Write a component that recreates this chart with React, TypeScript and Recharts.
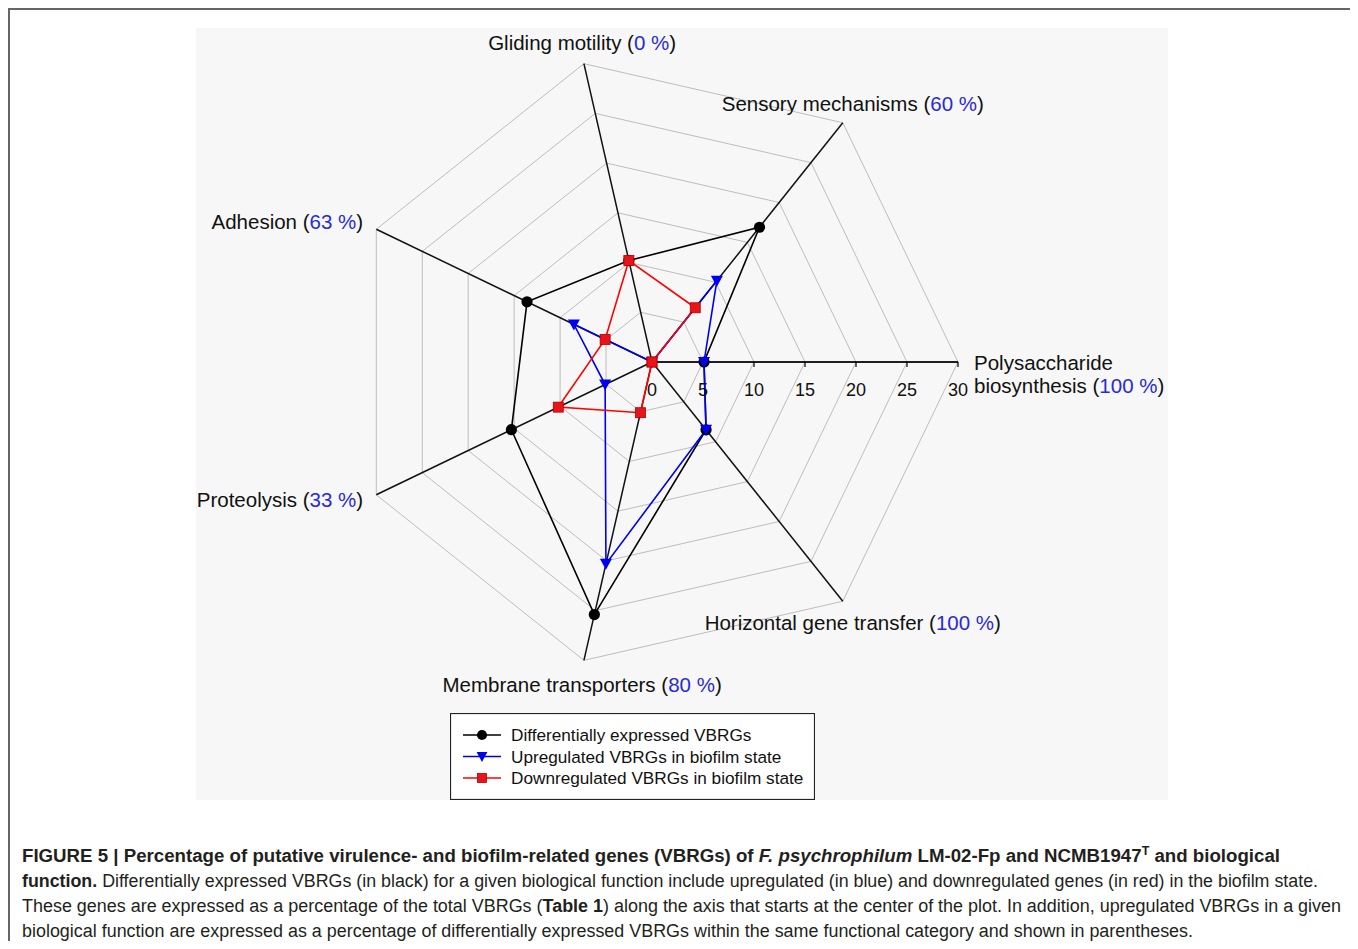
import React from "react";
import {
  RadarChart,
  Radar,
  PolarGrid,
  PolarAngleAxis,
  PolarRadiusAxis,
  Legend,
} from "recharts";

// values (% of total VBRGs)
const CATEGORIES = [
  "Gliding motility",
  "Sensory mechanisms",
  "Polysaccharide biosynthesis",
  "Horizontal gene transfer",
  "Membrane transporters",
  "Proteolysis",
  "Adhesion",
];
const UP_SHARE = [0, 60, 100, 100, 80, 33, 63];
const DIFFERENTIAL = [10.2, 16.9, 5.1, 8.5, 25.4, 15.3, 13.6];
const UPREGULATED = [0, 10.2, 5.1, 8.5, 20.3, 5.1, 8.5];
const DOWNREGULATED = [10.2, 6.8, 0, 0, 5.1, 10.2, 5.1];
const RADIUS_TICKS = [0, 5, 10, 15, 20, 25, 30];

const SERIES = [
  { key: "diff", name: "Differentially expressed VBRGs", color: "#000000", shape: "circle" },
  { key: "up", name: "Upregulated VBRGs in biofilm state", color: "#0000f0", shape: "triangle" },
  { key: "down", name: "Downregulated VBRGs in biofilm state", color: "#ff0000", shape: "square" },
];

const data = CATEGORIES.map((c, i) => ({
  category: c,
  diff: DIFFERENTIAL[i],
  up: UPREGULATED[i],
  down: DOWNREGULATED[i],
}));

const W = 1344;
const H = 933;
const CX = 644;
const CY = 354;
const R = 306;
// tuned so that Gliding motility lands at ~102.9deg and Polysaccharide on the 0deg axis
const START = 90 + 360 / 28;
const FONT = "'Liberation Sans', Arial, sans-serif";
const PCT_BLUE = "#2a2ad6";

// label placement relative to the tick point (radius + 8)
const LABEL_POS: Record<string, { dx: number; dy: number; anchor: string; wrap?: boolean }> = {
  "Gliding motility": { dx: 0, dy: -13, anchor: "middle" },
  "Sensory mechanisms": { dx: 5, dy: -12.5, anchor: "middle" },
  "Polysaccharide biosynthesis": { dx: 8, dy: 1, anchor: "start", wrap: true },
  "Horizontal gene transfer": { dx: 5, dy: 15.5, anchor: "middle" },
  "Membrane transporters": { dx: 0, dy: 17, anchor: "middle" },
  Proteolysis: { dx: -6, dy: 2, anchor: "end" },
  Adhesion: { dx: -6, dy: -4, anchor: "end" },
};

function Marker({ shape, cx, cy, color, s = 1 }: any) {
  if (shape === "circle") return <circle cx={cx} cy={cy} r={5.6 * s} fill={color} />;
  if (shape === "triangle")
    return (
      <polygon
        points={`${cx - 6 * s},${cy - 5 * s} ${cx + 6 * s},${cy - 5 * s} ${cx},${cy + 6 * s}`}
        fill={color}
      />
    );
  return (
    <rect
      x={cx - 5 * s}
      y={cy - 5 * s}
      width={10 * s}
      height={10 * s}
      fill="#e8141c"
      stroke="#b00000"
      strokeWidth={0.8}
    />
  );
}

function AngleTick(props: any) {
  const { payload } = props;
  const name = payload.value as string;
  const i = CATEGORIES.indexOf(name);
  const pos = LABEL_POS[name];
  const rad = (payload.coordinate * Math.PI) / 180;
  const x = CX + (R + 8) * Math.cos(rad) + pos.dx;
  const y = CY - (R + 8) * Math.sin(rad) + pos.dy + 7;
  const pct = (
    <>
      {" ("}
      <tspan fill={PCT_BLUE}>{`${UP_SHARE[i]} %`}</tspan>
      {")"}
    </>
  );
  if (pos.wrap) {
    const [a, b] = name.split(" ");
    return (
      <g>
        <text x={x} y={y} textAnchor="start" fontSize={20.5} fontFamily={FONT} fill="#111">
          {a}
        </text>
        <text x={x} y={y + 23} textAnchor="start" fontSize={20.5} fontFamily={FONT} fill="#111">
          {b}
          {pct}
        </text>
      </g>
    );
  }
  return (
    <text x={x} y={y} textAnchor={pos.anchor} fontSize={20.5} fontFamily={FONT} fill="#111">
      {name}
      {pct}
    </text>
  );
}

function RadiusTick(props: any) {
  const { x, y, payload } = props;
  return (
    <g>
      <line x1={x} y1={y} x2={x} y2={y + 5} stroke="#000" strokeWidth={1.2} />
      <text x={x} y={y + 34} textAnchor="middle" fontSize={18} fontFamily={FONT} fill="#111">
        {payload.value}
      </text>
    </g>
  );
}

const renderLegend = () => (
  <svg width={365} height={87}>
    <rect x={0.5} y={0.5} width={364} height={86} fill="#fff" stroke="#222" strokeWidth={1.2} />
    {SERIES.map((s, i) => {
      const y = 22 + i * 21.5;
      return (
        <g key={s.key}>
          <line x1={13} x2={51} y1={y} y2={y} stroke={s.color} strokeWidth={1.3} />
          <Marker shape={s.shape} cx={32} cy={y} color={s.color} s={0.9} />
          <text x={61} y={y + 6} fontSize={17.2} fontFamily={FONT} fill="#111">
            {s.name}
          </text>
        </g>
      );
    })}
  </svg>
);

export default function App() {
  return (
    <div style={{ position: "relative", width: W, height: H, fontFamily: FONT }}>
      <div
        style={{
          position: "absolute",
          left: 0,
          top: 0,
          width: W - 4,
          height: H,
          borderLeft: "2px solid #666",
          borderTop: "2px solid #666",
          borderRight: "2px solid #666",
        }}
      />
      <div
        style={{
          position: "absolute",
          left: 188,
          top: 20,
          width: 972,
          height: 772,
          background: "#f7f7f7",
        }}
      />
      <div style={{ position: "absolute", left: 0, top: 0 }}>
        <RadarChart
          width={W}
          height={H}
          data={data}
          cx={CX}
          cy={CY}
          outerRadius={R}
          startAngle={START}
          endAngle={START - 360}
          margin={{ top: 0, right: 0, bottom: 0, left: 0 }}
        >
          <PolarGrid gridType="polygon" radialLines={false} stroke="#bdbdbd" strokeWidth={1} />
          <PolarGrid gridType="polygon" polarRadius={[]} stroke="#111" strokeWidth={1.5} />
          <PolarAngleAxis dataKey="category" tick={AngleTick} tickLine={false} axisLine={false} />
          <PolarRadiusAxis
            angle={0}
            type="number"
            domain={[0, 30]}
            ticks={RADIUS_TICKS}
            tick={RadiusTick}
            axisLine={{ stroke: "#111", strokeWidth: 1.5 }}
          />
          {SERIES.map((s) => (
            <Radar
              key={s.key}
              name={s.name}
              dataKey={s.key}
              stroke={s.color}
              strokeWidth={1.6}
              fill="none"
              fillOpacity={0}
              isAnimationActive={false}
              dot={(p: any) => (
                <Marker key={`${s.key}-${p.index}`} shape={s.shape} cx={p.cx} cy={p.cy} color={s.color} />
              )}
            />
          ))}
          <Legend
            content={renderLegend}
            wrapperStyle={{ left: 442, top: 705, width: 365, height: 87 }}
          />
        </RadarChart>
      </div>
      <svg
        width={W}
        height={H}
        style={{ position: "absolute", left: 0, top: 0, pointerEvents: "none" }}
        fontFamily={FONT}
        fontSize={18}
        fill="#231f20"
      >
        <text x={14} y={854} textLength={1258} lengthAdjust="spacingAndGlyphs" fontWeight="bold">
          {"FIGURE 5 | Percentage of putative virulence- and biofilm-related genes (VBRGs) of "}
          <tspan fontStyle="italic">F. psychrophilum</tspan>
          {" LM-02-Fp and NCMB1947"}
          <tspan dy={-7} fontSize={12}>T</tspan>
          <tspan dy={7}>{" and biological"}</tspan>
        </text>
        <text x={14} y={879} textLength={1296} lengthAdjust="spacingAndGlyphs">
          <tspan fontWeight="bold">function.</tspan>
          {" Differentially expressed VBRGs (in black) for a given biological function include upregulated (in blue) and downregulated genes (in red) in the biofilm state."}
        </text>
        <text x={14} y={904} textLength={1319} lengthAdjust="spacingAndGlyphs">
          {"These genes are expressed as a percentage of the total VBRGs ("}
          <tspan fontWeight="bold">Table 1</tspan>
          {") along the axis that starts at the center of the plot. In addition, upregulated VBRGs in a given"}
        </text>
        <text x={14} y={929} textLength={1171} lengthAdjust="spacingAndGlyphs">
          {"biological function are expressed as a percentage of differentially expressed VBRGs within the same functional category and shown in parentheses."}
        </text>
      </svg>
    </div>
  );
}
